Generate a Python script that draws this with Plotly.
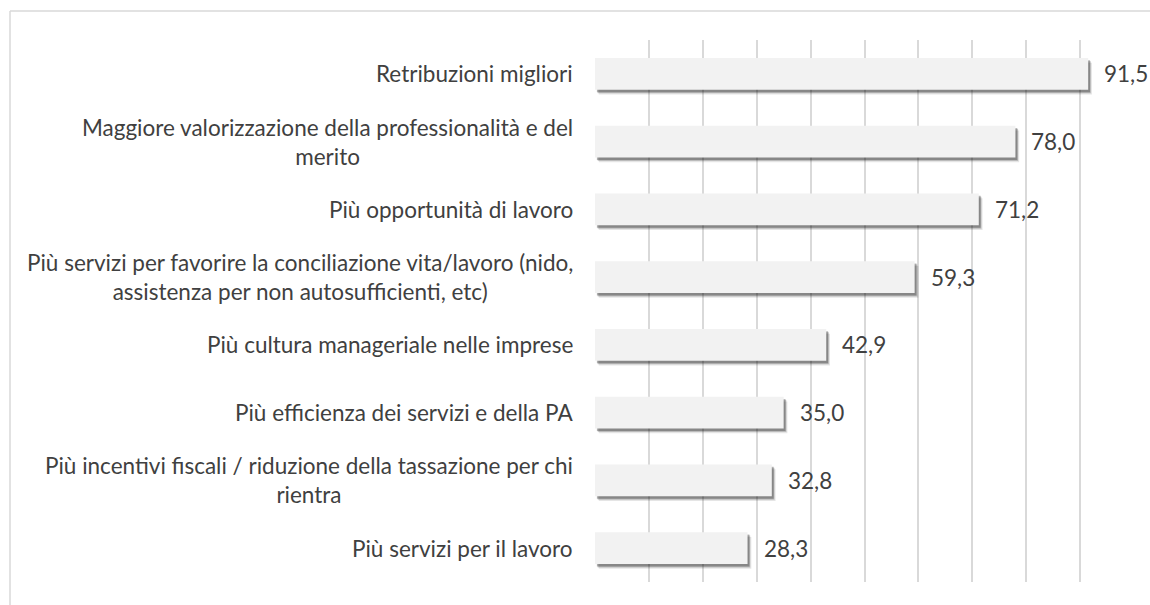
import plotly.graph_objects as go

categories = [
    "Retribuzioni migliori",
    "Maggiore valorizzazione della professionalità e del<br>merito",
    "Più opportunità di lavoro",
    "Più servizi per favorire la conciliazione vita/lavoro (nido,<br>assistenza per non autosufficienti, etc)",
    "Più cultura manageriale nelle imprese",
    "Più efficienza dei servizi e della PA",
    "Più incentivi fiscali / riduzione della tassazione per chi<br>rientra",
    "Più servizi per il lavoro",
]
values = [91.5, 78.0, 71.2, 59.3, 42.9, 35.0, 32.8, 28.3]
x_ticks = [0, 10, 20, 30, 40, 50, 60, 70, 80, 90, 100]

FONT = "Lato"
FS = 22.5
TXT = "#404040"
W = 0.47

fig = go.Figure()
# soft shadow layers
for extra, op, dx in [(0.07, 0.10, 0.7), (0.05, 0.18, 0.5), (0.035, 0.28, 0.35)]:
    fig.add_trace(go.Bar(
        y=categories, x=values, orientation="h",
        base=dx, width=W, offset=-W / 2 + extra,
        marker=dict(color=f"rgba(0,0,0,{op})", line=dict(width=0)),
        hoverinfo="skip", showlegend=False,
    ))
fig.add_trace(go.Bar(
    y=categories, x=values, orientation="h",
    width=W, offset=-W / 2,
    marker=dict(color="#f2f2f2", line=dict(width=0)),
    showlegend=False,
))

annotations = []
for c, v in zip(categories, values):
    annotations.append(dict(
        x=v, y=c, xref="x", yref="y", text=f"{v:.1f}".replace(".", ","),
        showarrow=False, xanchor="left", xshift=14,
        font=dict(family=FONT, size=FS, color=TXT),
    ))
    annotations.append(dict(
        x=0, y=c, xref="paper", yref="y", text=c, align="center",
        showarrow=False, xanchor="right", xshift=-20,
        font=dict(family=FONT, size=FS, color=TXT),
    ))

FW, FH = 1150, 605
L, T = 595, 40
R = FW - 1134
B = FH - 582
pw = FW - L - R
ph = FH - T - B

def px(xp):
    return (xp - L) / pw

def py(yp):
    return (FH - B - yp) / ph

shapes = [
    dict(type="line", xref="paper", yref="paper", x0=px(10), x1=px(1200),
         y0=py(11), y1=py(11), line=dict(color="#d9d9d9", width=1.5), layer="below"),
    dict(type="line", xref="paper", yref="paper", x0=px(10), x1=px(10),
         y0=py(11), y1=py(660), line=dict(color="#d9d9d9", width=1.5), layer="below"),
]

fig.update_layout(
    width=FW, height=FH,
    margin=dict(l=L, r=R, t=T, b=B),
    paper_bgcolor="white", plot_bgcolor="white",
    barmode="overlay",
    font=dict(family=FONT, color=TXT),
    annotations=annotations,
    shapes=shapes,
    xaxis=dict(range=[0, 100], tickvals=x_ticks, showticklabels=False,
               showgrid=True, gridcolor="#d9d9d9", gridwidth=1.5,
               zeroline=False, showline=False, fixedrange=True),
    yaxis=dict(autorange="reversed", showticklabels=False, showgrid=False,
               zeroline=False, showline=False, fixedrange=True),
)

fig.write_html(
    "out.html",
    config={"displayModeBar": False},
    post_script="document.body.style.margin='0';document.body.style.overflow='hidden';",
)
